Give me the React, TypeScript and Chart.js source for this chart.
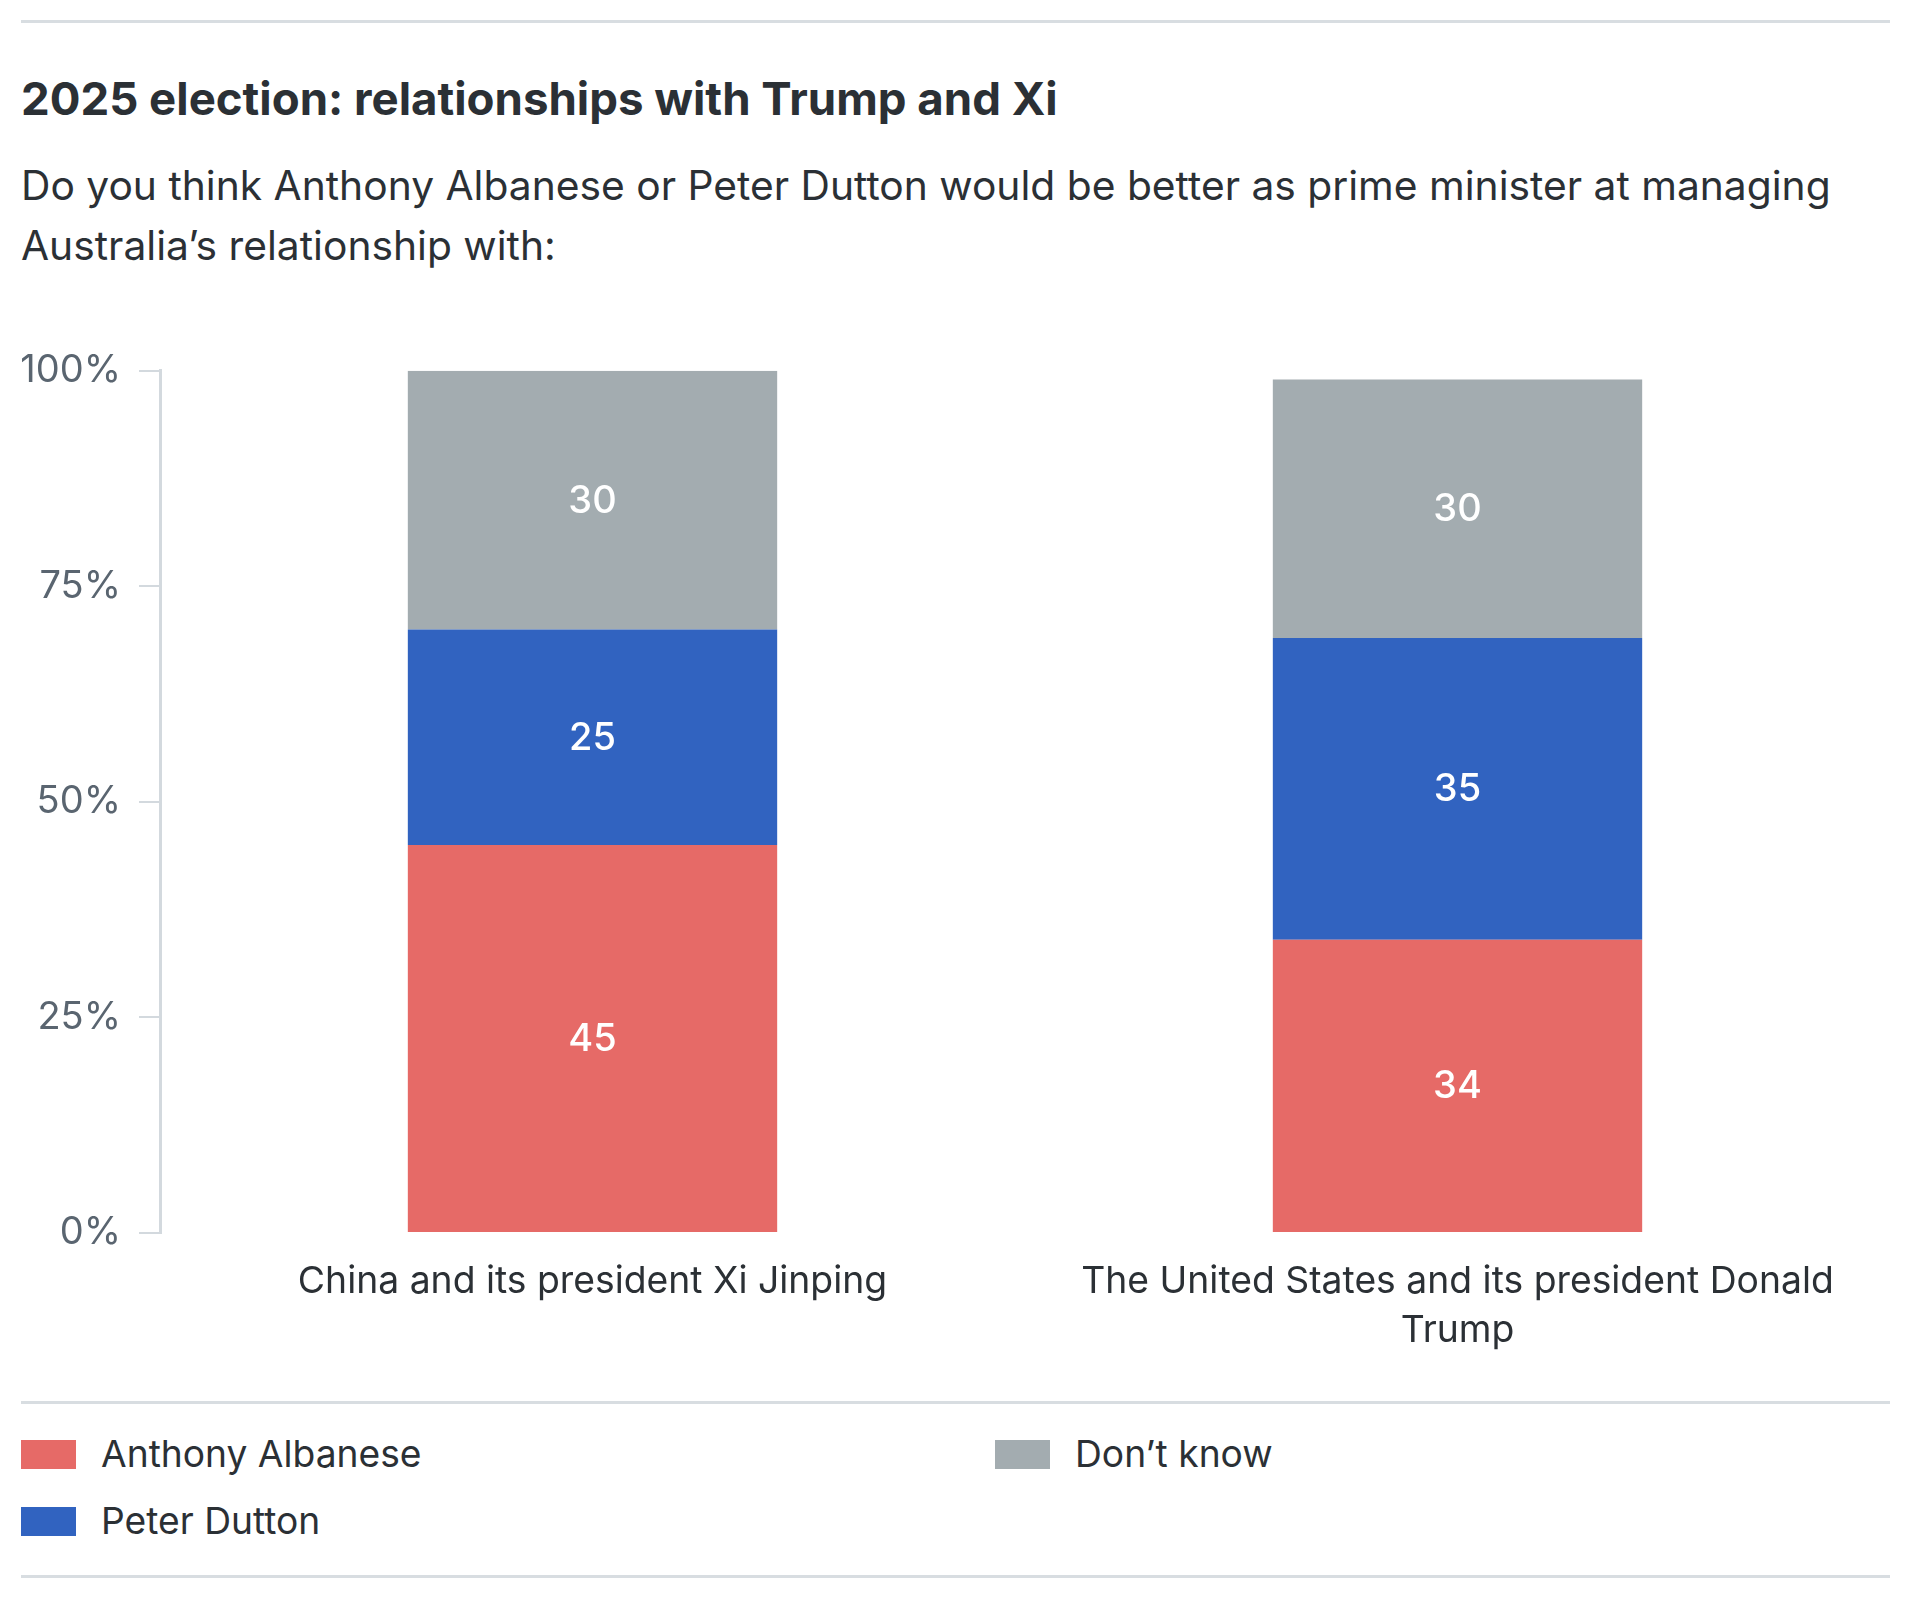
import React, { useEffect, useRef } from "react";
import { Chart, registerables } from "chart.js";

Chart.register(...registerables);

const titleText = "2025 election: relationships with Trump and Xi";
const subtitleLines = [
  "Do you think Anthony Albanese or Peter Dutton would be better as prime minister at managing",
  "Australia’s relationship with:",
];
const categories: string[][] = [
  ["China and its president Xi Jinping"],
  ["The United States and its president Donald", "Trump"],
];
const seriesNames = ["Anthony Albanese", "Peter Dutton", "Don’t know"];
const albaneseValues = [45, 34];
const duttonValues = [25, 35];
const dontKnowValues = [30, 30];
const yTickValues = [0, 25, 50, 75, 100];
const seriesColors = ["#e66a67", "#3163c0", "#a3acb0"];

const FONT = "Inter, 'Noto Sans', sans-serif";
const RULE = "#d8dde1";
const TEXT = "#2b3035";

const valueLabels = {
  id: "valueLabels",
  afterDatasetsDraw(chart: any) {
    const ctx = chart.ctx;
    ctx.save();
    ctx.font = `500 38px ${FONT}`;
    ctx.fillStyle = "#ffffff";
    ctx.textAlign = "center";
    ctx.textBaseline = "middle";
    chart.data.datasets.forEach((ds: any, i: number) => {
      const meta = chart.getDatasetMeta(i);
      meta.data.forEach((el: any, j: number) => {
        const p = el.getProps(["x", "y", "base"], true);
        ctx.fillText(String(ds.data[j]), p.x, (p.y + p.base) / 2 + 1);
      });
    });
    ctx.restore();
  },
};

export default function App() {
  const canvasRef = useRef<HTMLCanvasElement | null>(null);

  useEffect(() => {
    document.body.style.margin = "0";
    const canvas = canvasRef.current;
    if (!canvas) return;
    const values = [albaneseValues, duttonValues, dontKnowValues];
    const chart = new Chart(canvas, {
      type: "bar",
      data: {
        labels: categories as any,
        datasets: seriesNames.map((name, i) => ({
          label: name,
          data: values[i],
          backgroundColor: seriesColors[i],
          borderWidth: 0,
          categoryPercentage: 1,
          barPercentage: 0.427,
        })),
      },
      options: {
        animation: false,
        responsive: false,
        devicePixelRatio: 1,
        layout: { padding: { top: 39, right: 30, left: 0, bottom: 0 } },
        plugins: {
          legend: { display: false },
          tooltip: { enabled: false },
          title: { display: false },
        },
        scales: {
          x: {
            stacked: true,
            grid: { display: false, drawTicks: false },
            border: { display: false },
            ticks: {
              font: { family: FONT, size: 37.3, lineHeight: 1.32 },
              color: TEXT,
              padding: 24,
              maxRotation: 0,
              autoSkip: false,
            },
            afterFit: (s: any) => {
              s.height = 157;
            },
          },
          y: {
            stacked: true,
            min: 0,
            max: 100,
            afterBuildTicks: (s: any) => {
              s.ticks = yTickValues.map((v) => ({ value: v }));
            },
            ticks: {
              callback: (v: any) => `${v}%`,
              padding: 18,
              font: { family: FONT, size: 38 },
              color: "#5a6570",
            },
            grid: {
              display: true,
              drawOnChartArea: false,
              drawTicks: true,
              tickLength: 21,
              color: "#d3d9de",
              lineWidth: 2,
            },
            border: { display: true, color: "#d3d9de", width: 3 },
            afterFit: (s: any) => {
              s.width = 160;
            },
          },
        },
      },
      plugins: [valueLabels],
    });
    return () => chart.destroy();
  }, []);

  const rule = (top: number) => (
    <div
      style={{
        position: "absolute",
        left: 21,
        top: top - 1.5,
        width: 1869,
        height: 3,
        background: RULE,
      }}
    />
  );

  const legendItem = (i: number, left: number, centerY: number) => (
    <div
      key={i}
      style={{
        position: "absolute",
        left,
        top: centerY - 25,
        height: 50,
        display: "flex",
        alignItems: "center",
        whiteSpace: "nowrap",
      }}
    >
      <div style={{ width: 55, height: 29, background: seriesColors[i], marginRight: 25 }} />
      <span style={{ fontSize: 37.2, color: TEXT, lineHeight: "50px" }}>{seriesNames[i]}</span>
    </div>
  );

  return (
    <div
      style={{
        position: "relative",
        width: 1920,
        height: 1611,
        background: "#ffffff",
        fontFamily: FONT,
        overflow: "hidden",
      }}
    >
      {rule(21)}
      <div
        style={{
          position: "absolute",
          left: 21,
          top: 99 - 28,
          fontSize: 45.6,
          lineHeight: "56px",
          fontWeight: 700,
          color: TEXT,
          whiteSpace: "nowrap",
        }}
      >
        {titleText}
      </div>
      <div
        style={{
          position: "absolute",
          left: 21,
          top: 186 - 30,
          fontSize: 40.75,
          lineHeight: "60px",
          color: TEXT,
          whiteSpace: "nowrap",
        }}
      >
        {subtitleLines.map((l, i) => (
          <div key={i}>{l}</div>
        ))}
      </div>
      <canvas
        ref={canvasRef}
        width={1920}
        height={1060}
        style={{ position: "absolute", left: 0, top: 330, width: 1920, height: 1060 }}
      />
      {rule(1402)}
      {legendItem(0, 21, 1454)}
      {legendItem(1, 21, 1521)}
      {legendItem(2, 995, 1454)}
      {rule(1576)}
    </div>
  );
}
